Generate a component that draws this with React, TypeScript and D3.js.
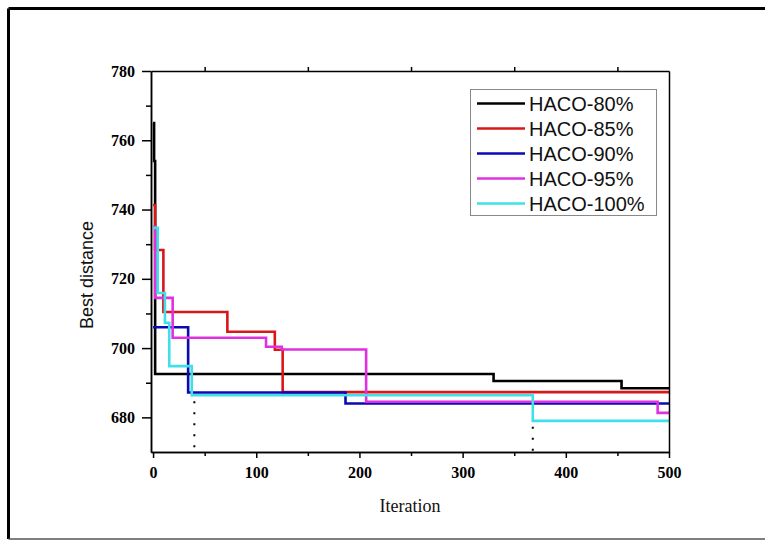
import React, { useEffect, useMemo, useRef } from "react";
import * as d3 from "d3";

const WIDTH = 765;
const HEIGHT = 541;
const PLOT = { left: 151, right: 669, top: 71, bottom: 452 };

// [iteration, best distance] at each change point
const haco80 = [[0, 765], [1, 754], [2, 692.5], [330, 690.5], [454, 688.4], [500, 688.4]];
const haco85 = [[0, 741.3], [2, 728.3], [10, 710.4], [72, 704.7], [118, 699.5], [125.6, 687.3], [500, 687.3]];
const haco90 = [[0, 706], [34, 687.2], [186.5, 684], [500, 684]];
const haco95 = [[0, 735], [2, 714.5], [19, 703], [109.5, 700.4], [124.7, 699.6], [206.5, 684.5], [489, 681.3], [500, 681.3]];
const haco100 = [[0, 734.7], [4.5, 715.9], [11.5, 707.3], [15.7, 694.8], [37.5, 686.4], [368, 679], [500, 679]];

const seriesNames = ["HACO-80%", "HACO-85%", "HACO-90%", "HACO-95%", "HACO-100%"];
const seriesData = [haco80, haco85, haco90, haco95, haco100];
const seriesColors = ["#000000", "#d81818", "#0a0ab4", "#e030e0", "#40e0e8"];

// dotted drop lines [iteration, value]
const dropLines = [[40, 686.4], [368, 679]];

const xMajor = [0, 100, 200, 300, 400, 500];
const xMinor = [50, 150, 250, 350, 450];
const yMajor = [680, 700, 720, 740, 760, 780];
const yMinor = [690, 710, 730, 750, 770];

const serif = "'Liberation Serif', 'Times New Roman', serif";
const sans = "'Liberation Sans', Arial, sans-serif";

const App = () => {
    const axesRef = useRef(null);

    const xScale = useMemo(() => d3.scaleLinear().domain([-2, 500]).range([PLOT.left, PLOT.right]), []);
    const yScale = useMemo(() => d3.scaleLinear().domain([670, 780]).range([PLOT.bottom, PLOT.top]), []);

    const lineBuilder = useMemo(() => d3.line()
        .x((d) => xScale(d[0]))
        .y((d) => yScale(d[1]))
        .curve(d3.curveStepAfter), [xScale, yScale]);

    // axes with d3
    useEffect(() => {
        const g = d3.select(axesRef.current);
        g.selectAll("*").remove();

        const style = (sel) => {
            sel.select(".domain").attr("stroke", "#000").attr("stroke-width", 1.5);
            sel.selectAll(".tick line").attr("stroke", "#000").attr("stroke-width", 1.5);
            sel.selectAll("text")
                .attr("fill", "#000")
                .style("font-family", serif)
                .style("font-weight", "bold")
                .style("font-size", "16px");
        };

        g.append("g")
            .attr("transform", `translate(0,${PLOT.bottom})`)
            .call(d3.axisBottom(xScale).tickValues(xMajor).tickSizeInner(6).tickSizeOuter(0).tickPadding(9).tickFormat(d3.format("d")))
            .call(style);
        g.append("g")
            .attr("transform", `translate(0,${PLOT.bottom})`)
            .call(d3.axisBottom(xScale).tickValues(xMinor).tickSizeInner(4).tickSizeOuter(0).tickFormat(() => ""))
            .call(style);

        g.append("g")
            .attr("transform", `translate(${PLOT.left},0)`)
            .call(d3.axisLeft(yScale).tickValues(yMajor).tickSizeInner(9).tickSizeOuter(0).tickPadding(7).tickFormat(d3.format("d")))
            .call(style);
        g.append("g")
            .attr("transform", `translate(${PLOT.left},0)`)
            .call(d3.axisLeft(yScale).tickValues(yMinor).tickSizeInner(5).tickSizeOuter(0).tickFormat(() => ""))
            .call(style);

        g.append("g")
            .attr("transform", `translate(0,${PLOT.top})`)
            .call(d3.axisTop(xScale).tickValues(xMinor).tickSizeInner(4).tickSizeOuter(0).tickFormat(() => ""))
            .call(style);
        g.append("g")
            .attr("transform", `translate(${PLOT.right},0)`)
            .call(d3.axisRight(yScale).tickValues([]).tickSizeOuter(0))
            .call(style);
    }, [xScale, yScale]);

    return (
        <svg width={WIDTH} height={HEIGHT} style={{ position: "absolute", left: 0, top: 0, background: "#fff" }}>
            {/* outer frame */}
            <line x1={8.5} y1={8.5} x2={WIDTH} y2={8.5} stroke="#000" strokeWidth={3} />
            <line x1={8.5} y1={8.5} x2={8.5} y2={539} stroke="#000" strokeWidth={3} />
            <line x1={8.5} y1={539} x2={WIDTH} y2={539} stroke="#555" strokeWidth={1.5} />

            {seriesData.map((data, i) => (
                <path key={seriesNames[i]} d={lineBuilder(data)} fill="none" stroke={seriesColors[i]} strokeWidth={2.6} />
            ))}

            {dropLines.map((d, i) => (
                <line
                    key={i}
                    x1={xScale(d[0])}
                    x2={xScale(d[0])}
                    y1={yScale(d[1]) + 6}
                    y2={PLOT.bottom}
                    stroke="#000"
                    strokeWidth={2}
                    strokeDasharray="2 9"
                />
            ))}

            <g ref={axesRef} />

            {/* legend */}
            <rect x={470.5} y={89.5} width={186} height={126} fill="#fff" stroke="#888" strokeWidth={1} />
            {seriesNames.map((name, i) => (
                <g key={name} transform={`translate(0,${103.5 + i * 25})`}>
                    <line x1={477} x2={525} y1={0} y2={0} stroke={seriesColors[i]} strokeWidth={2.6} />
                    <text x={529} y={0} dy="0.35em" fontFamily={sans} fontSize={20} fill="#111">{name}</text>
                </g>
            ))}

            <text x={(PLOT.left + PLOT.right) / 2} y={511.5} textAnchor="middle" fontFamily={serif} fontSize={18} fill="#111">Iteration</text>
            <text transform="translate(93,275) rotate(-90)" textAnchor="middle" fontFamily={sans} fontSize={18} fill="#111">Best distance</text>
        </svg>
    );
};

export default App;
